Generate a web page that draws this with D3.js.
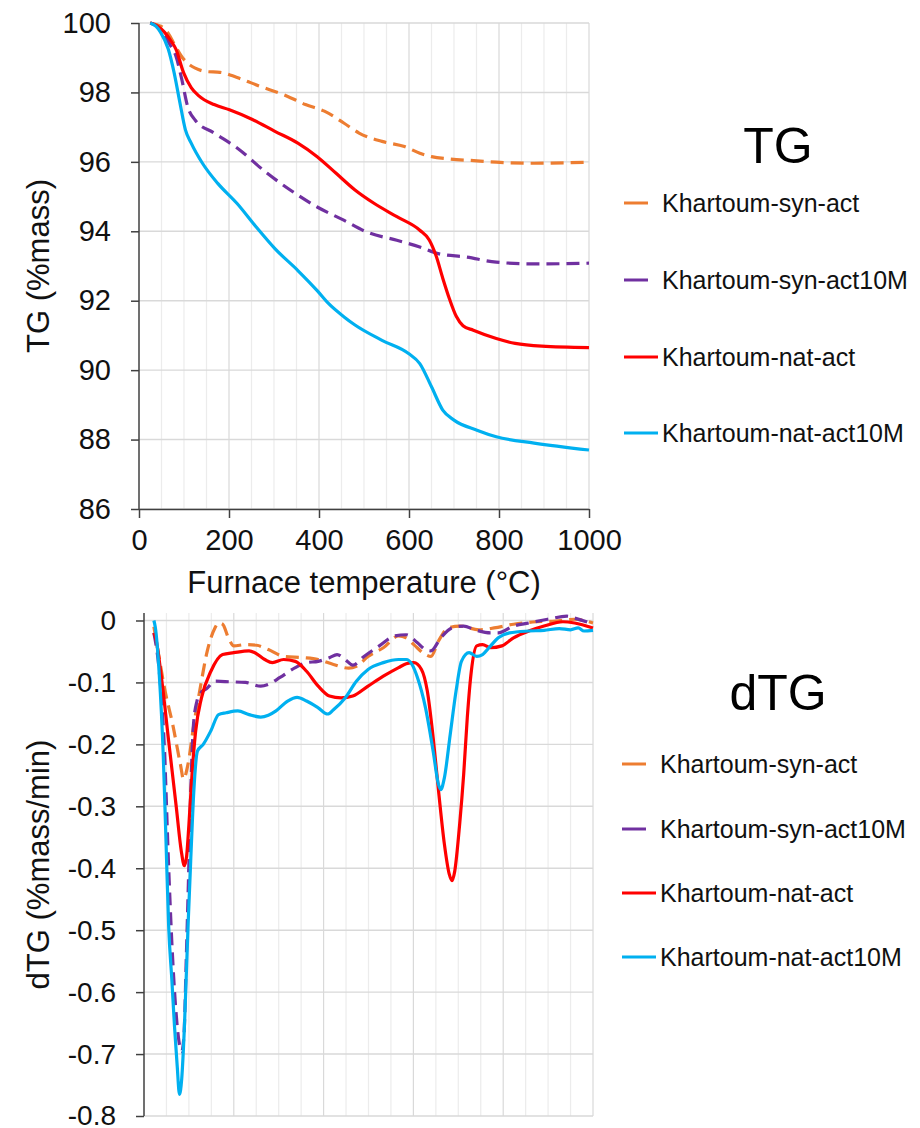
<!DOCTYPE html>
<html>
<head>
<meta charset="utf-8">
<script src="https://cdn.jsdelivr.net/npm/d3@7"></script>
<style>
  html, body { margin: 0; padding: 0; background: #fff; }
  svg { display: block; font-family: "Liberation Sans", Arial, sans-serif; }
</style>
</head>
<body>
<svg id="chart" width="920" height="1128"></svg>
<script>
// ---------- DATA ----------
const seriesNames = ["Khartoum-syn-act", "Khartoum-syn-act10M", "Khartoum-nat-act", "Khartoum-nat-act10M"];

const tgTicksY = [86, 88, 90, 92, 94, 96, 98, 100];
const tgTicksX = [0, 200, 400, 600, 800, 1000];
const dtgTicksY = [0, -0.1, -0.2, -0.3, -0.4, -0.5, -0.6, -0.7, -0.8];

// TG (%mass) vs temperature (°C)
const tgSynAct = [[25,100],[40,99.95],[55,99.85],[65,99.7],[80,99.35],[99,98.96],[112,98.8],[125,98.7],[150,98.6],[180,98.58],[218,98.43],[268,98.18],[328,97.9],[370,97.65],[412,97.46],[455,97.12],[489,96.83],[540,96.59],[590,96.44],[624,96.25],[650,96.15],[692,96.08],[751,96.03],[794,95.99],[878,95.96],[1000,95.99]];
const tgSynAct10M = [[25,100],[45,99.85],[57,99.63],[70,99.35],[82,99.05],[95,98.38],[108,97.6],[125,97.2],[167,96.83],[218,96.4],[285,95.67],[336,95.19],[396,94.7],[455,94.32],[506,93.98],[573,93.74],[624,93.55],[667,93.35],[726,93.26],[794,93.11],[878,93.06],[1000,93.08]];
const tgNatAct = [[25,100],[40,99.92],[57,99.73],[70,99.5],[82,99.25],[99,98.57],[116,98.14],[133,97.9],[167,97.65],[201,97.5],[252,97.22],[302,96.88],[353,96.54],[396,96.15],[438,95.67],[480,95.19],[523,94.8],[573,94.42],[624,94.03],[645,93.75],[660,93.3],[675,92.65],[690,92.05],[705,91.55],[720,91.28],[743,91.15],[794,90.91],[836,90.77],[895,90.69],[1000,90.65]];
const tgNatAct10M = [[25,100],[38,99.9],[48,99.73],[65,99.25],[78,98.57],[91,97.7],[103,96.93],[116,96.54],[141,95.96],[175,95.38],[218,94.8],[260,94.13],[302,93.5],[353,92.87],[396,92.29],[421,91.92],[455,91.54],[480,91.3],[540,90.86],[599,90.48],[624,90.19],[650,89.52],[675,88.85],[700,88.56],[751,88.27],[794,88.08],[878,87.9],[1000,87.7]];

// dTG (%mass/min) vs temperature (°C)
const dtgSynAct = [[22,-0.01],[30,-0.044],[47,-0.114],[64,-0.168],[81,-0.232],[88,-0.256],[98,-0.232],[111,-0.168],[124,-0.114],[141,-0.049],[158,-0.012],[166,-0.004],[175,-0.006],[188,-0.028],[200,-0.041],[226,-0.039],[251,-0.040],[277,-0.047],[311,-0.058],[354,-0.060],[388,-0.063],[422,-0.071],[456,-0.077],[473,-0.074],[499,-0.058],[533,-0.044],[567,-0.025],[584,-0.028],[601,-0.039],[627,-0.055],[639,-0.058],[656,-0.033],[678,-0.012],[703,-0.009],[746,-0.015],[780,-0.012],[823,-0.006],[874,-0.002],[916,-0.001],[959,0.002],[1000,-0.004]];
const dtgSynAct10M = [[22,-0.02],[35,-0.09],[45,-0.2],[55,-0.4],[62,-0.52],[70,-0.62],[78,-0.68],[84,-0.696],[89,-0.67],[94,-0.55],[99,-0.42],[104,-0.28],[110,-0.17],[118,-0.13],[124,-0.119],[141,-0.109],[158,-0.098],[192,-0.099],[226,-0.1],[260,-0.106],[277,-0.103],[303,-0.092],[337,-0.076],[362,-0.068],[388,-0.066],[413,-0.06],[430,-0.055],[448,-0.063],[465,-0.072],[490,-0.058],[524,-0.041],[558,-0.025],[584,-0.023],[609,-0.036],[627,-0.047],[639,-0.049],[661,-0.028],[686,-0.012],[712,-0.009],[737,-0.015],[772,-0.02],[789,-0.02],[823,-0.009],[857,-0.004],[899,0.002],[942,0.007],[959,0.004],[1000,-0.006]];
const dtgNatAct = [[22,-0.02],[26,-0.028],[38,-0.087],[55,-0.195],[72,-0.302],[83,-0.372],[90,-0.396],[95,-0.38],[100,-0.33],[107,-0.248],[115,-0.179],[128,-0.125],[149,-0.082],[175,-0.055],[200,-0.052],[234,-0.049],[247,-0.052],[269,-0.063],[286,-0.068],[311,-0.063],[337,-0.066],[362,-0.082],[388,-0.106],[413,-0.122],[439,-0.125],[465,-0.122],[499,-0.106],[533,-0.09],[567,-0.076],[584,-0.07],[601,-0.068],[618,-0.079],[631,-0.114],[644,-0.189],[656,-0.275],[669,-0.361],[680,-0.41],[686,-0.42],[692,-0.405],[703,-0.329],[712,-0.248],[720,-0.157],[729,-0.082],[741,-0.041],[754,-0.039],[772,-0.044],[797,-0.041],[823,-0.028],[857,-0.017],[891,-0.009],[933,-0.002],[959,-0.004],[1000,-0.012]];
const dtgNatAct10M = [[22,0],[25,-0.01],[34,-0.087],[43,-0.22],[49,-0.356],[55,-0.495],[62,-0.58],[68,-0.656],[74,-0.72],[79,-0.765],[84,-0.74],[90,-0.656],[98,-0.495],[104,-0.388],[111,-0.275],[119,-0.211],[132,-0.2],[149,-0.178],[166,-0.152],[183,-0.149],[209,-0.146],[234,-0.152],[260,-0.156],[277,-0.153],[294,-0.146],[320,-0.13],[341,-0.124],[362,-0.13],[388,-0.141],[409,-0.151],[422,-0.144],[448,-0.125],[473,-0.098],[499,-0.079],[533,-0.068],[567,-0.063],[584,-0.063],[597,-0.071],[609,-0.092],[627,-0.141],[644,-0.211],[656,-0.265],[661,-0.273],[669,-0.254],[682,-0.184],[695,-0.114],[707,-0.066],[724,-0.052],[741,-0.058],[754,-0.055],[772,-0.041],[789,-0.028],[814,-0.02],[857,-0.017],[891,-0.016],[925,-0.013],[950,-0.015],[967,-0.012],[980,-0.017],[1000,-0.016]];

// ---------- STYLE ----------
const colors = ["#ED7D31", "#7030A0", "#FF0000", "#00B0F0"];
const dashes = ["13,7", "13,7", null, null];
const gridMajor = "#d9d9d9", gridMinor = "#ececec", axisColor = "#404040", textColor = "#111";

const svg = d3.select("#chart");

function drawPanel(cfg) {
  const x = d3.scaleLinear().domain([0, 1000]).range([cfg.left, cfg.right]);
  const y = d3.scaleLinear().domain(cfg.yDomain).range([cfg.bottom, cfg.top]);
  const g = svg.append("g");

  // vertical gridlines every 50, major every 200
  const vTicks = d3.range(50, 1001, 50);
  g.selectAll(".vg").data(vTicks).join("line")
    .attr("x1", d => x(d)).attr("x2", d => x(d))
    .attr("y1", cfg.top).attr("y2", cfg.bottom)
    .attr("stroke", d => d % 200 === 0 ? gridMajor : gridMinor)
    .attr("stroke-width", 1.2);

  // horizontal gridlines
  g.selectAll(".hg").data(cfg.yTicks).join("line")
    .attr("x1", cfg.left).attr("x2", cfg.right)
    .attr("y1", d => y(d)).attr("y2", d => y(d))
    .attr("stroke", gridMajor).attr("stroke-width", 1.4);

  // y axis
  const yAxis = d3.axisLeft(y).tickValues(cfg.yTicks).tickSize(8).tickPadding(20)
    .tickFormat(cfg.yFormat);
  const ya = g.append("g").attr("transform", `translate(${cfg.left},0)`).call(yAxis);
  ya.selectAll(".domain").attr("stroke", axisColor).attr("stroke-width", 1.5)
    .attr("d", `M0,${cfg.top}V${cfg.bottom}`);
  ya.selectAll(".tick line").attr("stroke", axisColor).attr("stroke-width", 1.5);
  ya.selectAll(".tick text").attr("fill", textColor).style("font-size", cfg.tickFont)
    .style("font-family", "Liberation Sans, Arial, sans-serif");

  if (cfg.xAxis) {
    const xAxis = d3.axisBottom(x).tickValues(tgTicksX).tickSize(9).tickPadding(11).tickSizeOuter(0)
      .tickFormat(d3.format("d"));
    const xa = g.append("g").attr("transform", `translate(0,${cfg.bottom})`).call(xAxis);
    xa.select(".domain").attr("stroke", axisColor).attr("stroke-width", 1.5);
    xa.selectAll(".tick line").attr("stroke", axisColor).attr("stroke-width", 1.5);
    xa.selectAll(".tick text").attr("fill", textColor).style("font-size", "29px")
      .style("font-family", "Liberation Sans, Arial, sans-serif");
  }

  // lines
  const line = d3.line().x(d => x(d[0])).y(d => y(d[1])).curve(d3.curveMonotoneX);
  cfg.series.forEach((s, i) => {
    g.append("path").datum(s)
      .attr("d", line)
      .attr("fill", "none")
      .attr("stroke", colors[i])
      .attr("stroke-width", 3.2)
      .attr("stroke-linejoin", "round")
      .attr("stroke-dasharray", dashes[i]);
  });

  // y title
  g.append("text")
    .attr("transform", `translate(${cfg.yTitleX},${(cfg.top + cfg.bottom) / 2}) rotate(-90)`)
    .attr("text-anchor", "middle").attr("dominant-baseline", "central")
    .attr("fill", textColor).style("font-size", "31px").text(cfg.yTitle);

  // title
  g.append("text").attr("x", cfg.titleX).attr("y", cfg.titleY)
    .attr("text-anchor", "middle").attr("fill", "#000")
    .style("font-size", "50px").text(cfg.title);

  // legend
  seriesNames.forEach((name, i) => {
    const ly = cfg.legendY[i];
    g.append("line")
      .attr("x1", cfg.legendX).attr("x2", cfg.legendX + (i < 2 ? 24 : 34))
      .attr("y1", ly).attr("y2", ly)
      .attr("stroke", colors[i]).attr("stroke-width", 3);
    g.append("text").attr("x", cfg.legendX + 38).attr("y", ly)
      .attr("dominant-baseline", "central").attr("fill", textColor)
      .style("font-size", "25px").text(name);
  });
  return { x, y };
}

// TG panel
drawPanel({
  left: 139, right: 589, top: 23, bottom: 509,
  yDomain: [86, 100], yTicks: tgTicksY, yFormat: d3.format("d"), tickFont: "29px",
  xAxis: true,
  series: [tgSynAct, tgSynAct10M, tgNatAct, tgNatAct10M],
  yTitle: "TG (%mass)", yTitleX: 38,
  title: "TG", titleX: 778, titleY: 163,
  legendX: 624, legendY: [203, 280, 357, 433]
});

// x axis title
svg.append("text").attr("x", 364).attr("y", 593).attr("text-anchor", "middle")
  .attr("fill", textColor).style("font-size", "31px").text("Furnace temperature (°C)");

// dTG panel
drawPanel({
  left: 144, right: 593, top: 613, bottom: 1116,
  yDomain: [-0.8, 0.0121], yTicks: dtgTicksY, tickFont: "28px",
  yFormat: d => d === 0 ? "0" : d3.format(".1f")(d).replace("\u2212", "-"),
  xAxis: false,
  series: [dtgSynAct, dtgSynAct10M, dtgNatAct, dtgNatAct10M],
  yTitle: "dTG (%mass/min)", yTitleX: 38,
  title: "dTG", titleX: 778, titleY: 710,
  legendX: 622, legendY: [764, 829, 893, 957]
});
</script>
</body>
</html>
